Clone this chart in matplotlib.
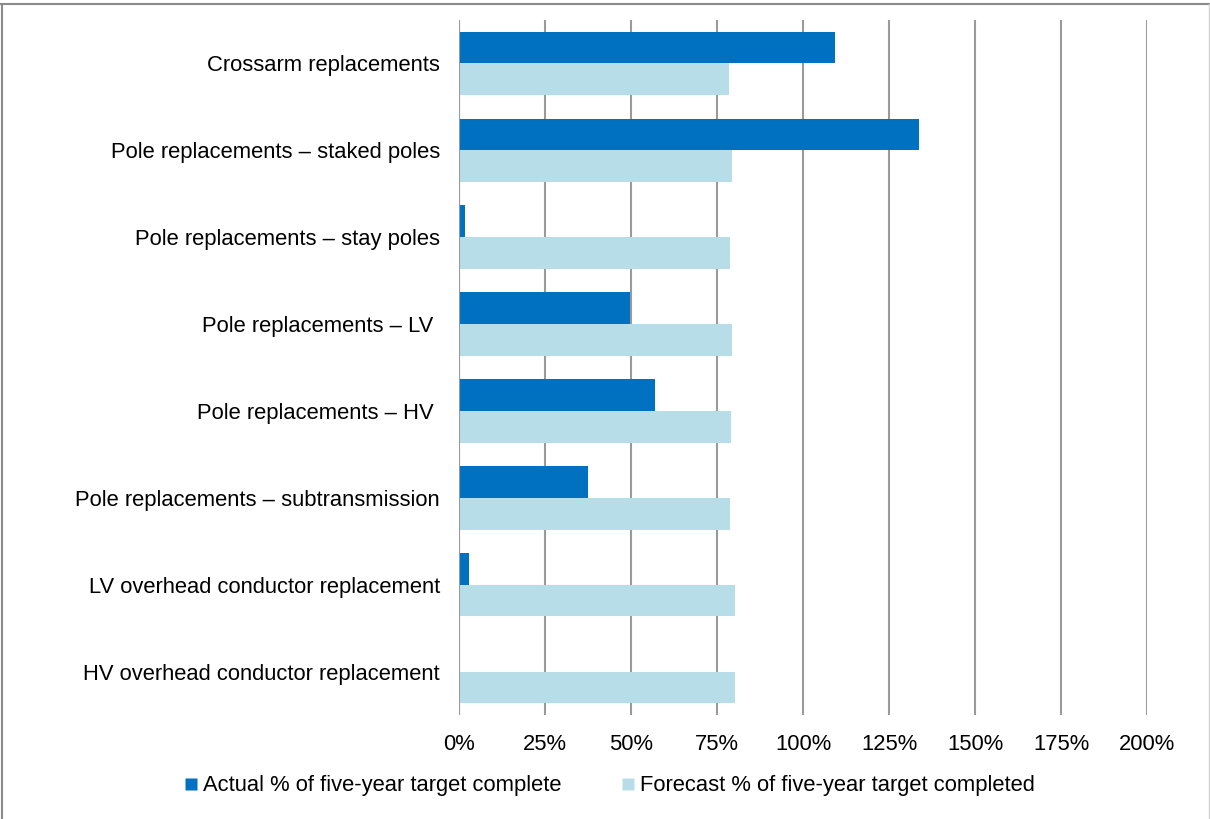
import matplotlib.pyplot as plt
from matplotlib.lines import Line2D
import numpy as np

categories = [
    "Crossarm replacements",
    "Pole replacements \u2013 staked poles",
    "Pole replacements \u2013 stay poles",
    "Pole replacements \u2013 LV ",
    "Pole replacements \u2013 HV ",
    "Pole replacements \u2013 subtransmission",
    "LV overhead conductor replacement",
    "HV overhead conductor replacement",
]
actual = [109.1, 133.6, 1.6, 49.5, 57.0, 37.5, 2.7, 0.0]
forecast = [78.4, 79.3, 78.6, 79.2, 79.0, 78.6, 80.1, 80.1]
xticks = [0, 25, 50, 75, 100, 125, 150, 175, 200]
series_names = ["Actual % of five-year target complete",
                "Forecast % of five-year target completed"]

c_actual = "#0070C0"
c_forecast = "#B7DEE8"
grid_c = "#9a9a9a"

plt.rcParams["font.family"] = ["Liberation Sans", "DejaVu Sans"]
fs = 15.8

fig = plt.figure(figsize=(12.1, 8.19), dpi=100)
ax = fig.add_axes([459.3 / 1210, 1 - 715 / 819, (1147.3 - 459.3) / 1210, (715 - 20) / 819])

y = np.arange(len(categories))
h = 0.365
ax.barh(y - h / 2, actual, height=h, color=c_actual, edgecolor="none", zorder=3)
ax.barh(y + h / 2, forecast, height=h, color=c_forecast, edgecolor="none", zorder=3)

ax.set_xlim(0, 200)
ax.set_ylim(len(categories) - 0.5, -0.5)
ax.set_xticks(xticks)
ax.set_xticklabels([f"{t}%" for t in xticks], fontsize=fs)
ax.set_yticks(y)
ax.set_yticklabels(categories, fontsize=fs)
ax.tick_params(axis="x", length=0, pad=14)
ax.tick_params(axis="y", length=0, pad=14)
for s in ax.spines.values():
    s.set_visible(False)
ax.grid(axis="x", color=grid_c, linewidth=1.5, zorder=1)
ax.axvline(0, color=grid_c, linewidth=1.5, zorder=4)

handles = [Line2D([], [], marker="s", linestyle="none", markersize=9.2,
                  markerfacecolor=c, markeredgecolor="none")
           for c in (c_actual, c_forecast)]
fig.legend(handles, series_names, loc="center", ncol=2,
           bbox_to_anchor=(610 / 1210, 1 - 786 / 819), frameon=False,
           fontsize=fs, handlelength=0.5, handletextpad=0.3,
           columnspacing=2.8, borderpad=0)

# outer frame
fig.add_artist(Line2D([0, 1], [1 - 4 / 819, 1 - 4 / 819], color="#8a8a8a",
                      linewidth=1.5, transform=fig.transFigure))
fig.add_artist(Line2D([2 / 1210, 2 / 1210], [0, 1 - 4 / 819], color="#8a8a8a",
                      linewidth=1.5, transform=fig.transFigure))
fig.add_artist(Line2D([1208.5 / 1210, 1208.5 / 1210], [0, 1 - 4 / 819], color="#d0d0d0",
                      linewidth=1.0, transform=fig.transFigure))

fig.savefig("out.png", dpi=100, facecolor="white")
